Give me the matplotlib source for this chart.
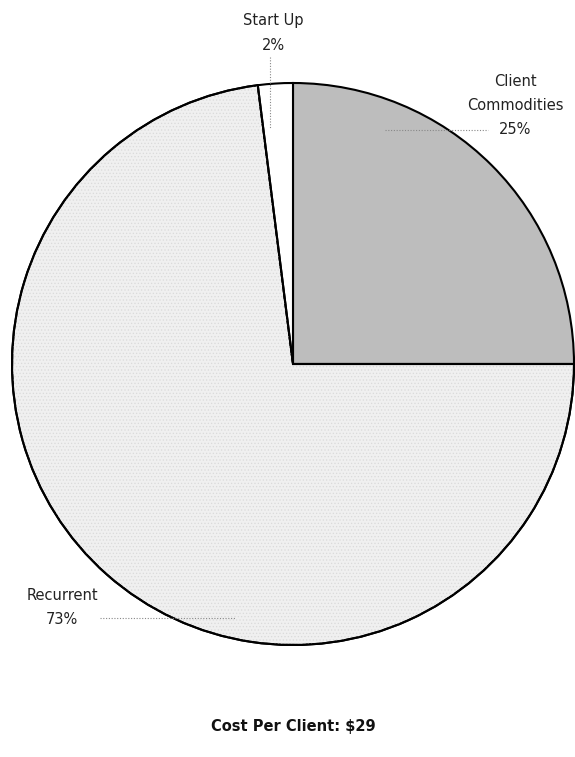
import matplotlib.pyplot as plt
from matplotlib.patches import Wedge

# Cost breakdown per client
labels = ['Client\nCommodities', 'Recurrent', 'Start Up']
shares = [25, 73, 2]
colors = ['#bdbdbd', '#f0f0f0', '#ffffff']
title = 'Cost Per Client: $29'

W, H = 575, 757
fig = plt.figure(figsize=(W / 100, H / 100), dpi=100)
ax = fig.add_axes([0, 0, 1, 1])

plt.rcParams['hatch.linewidth'] = 0.5

cx, cy, r = 293, H - 364, 281
wedges, _ = ax.pie(shares, colors=colors, startangle=90, counterclock=False,
                   center=(cx, cy), radius=r, frame=True,
                   wedgeprops=dict(edgecolor='black', linewidth=1.5))
ax.set_xlim(0, W)
ax.set_ylim(0, H)
ax.set_aspect('equal')
ax.axis('off')

# faint dotted texture on the recurrent slice
rec = wedges[1]
tex = Wedge((cx, cy), r, rec.theta1, rec.theta2, facecolor='none',
            edgecolor='#dadada', hatch='.....', linewidth=0, zorder=1.5)
ax.add_patch(tex)
for w in wedges:
    w.set_zorder(1)
outline = Wedge((cx, cy), r, rec.theta1, rec.theta2, facecolor='none',
                edgecolor='black', linewidth=1.5, zorder=2)
ax.add_patch(outline)

txt = dict(fontsize=10.5, color='#222222', ha='center', va='center',
           linespacing=1.75)
lead = dict(color='#888888', linestyle=(0, (1, 1.5)), linewidth=0.8, zorder=3)

# Start Up
ax.text(273, H - 33, f'Start Up\n{shares[2]}%', **txt)
ax.plot([270, 270], [H - 57, H - 128], **lead)

# Client Commodities
ax.text(515, H - 106, f'{labels[0]}\n{shares[0]}%', **txt)
ax.plot([385, 488], [H - 130, H - 130], **lead)

# Recurrent
ax.text(62, H - 608, f'{labels[1]}\n{shares[1]}%', **txt)
ax.plot([100, 236], [H - 618, H - 618], **lead)

ax.text(cx, H - 727, title, fontsize=10.5, fontweight='bold',
        ha='center', va='center', color='#111111')

fig.savefig('out.png', dpi=100)
